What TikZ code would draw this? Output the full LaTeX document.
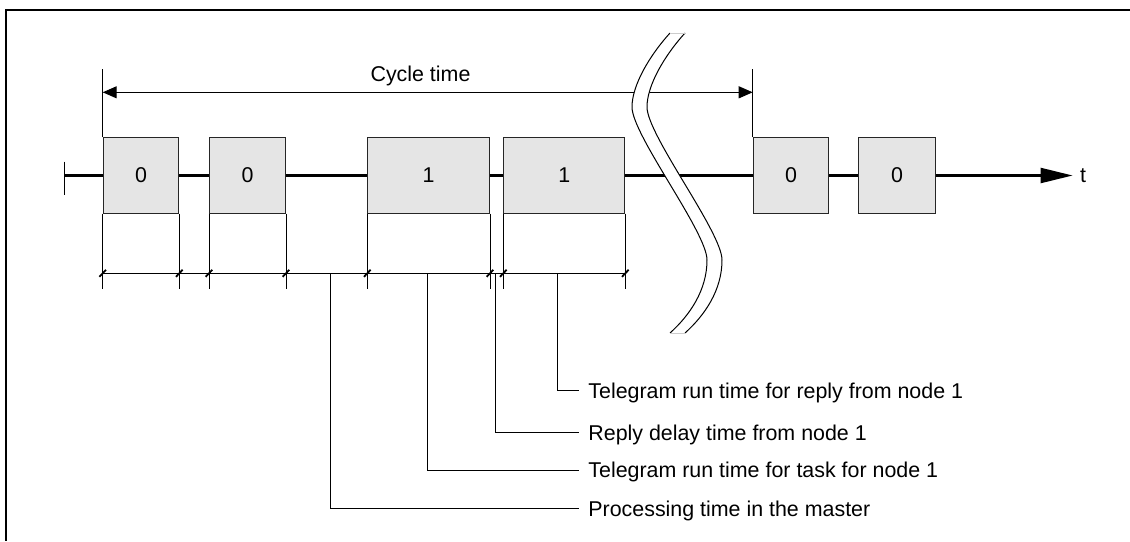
\documentclass[tikz,border=0pt]{standalone}
\usepackage{fontspec}
\setmainfont{Liberation Sans}
\usetikzlibrary{arrows.meta}

\begin{document}
\begin{tikzpicture}[x = 0.5pt, y = -0.5pt, >={Triangle[length = 7pt, width = 6pt]},
  font = \fontsize{10.7}{12.8}\selectfont,
  box/.style = {draw = black!85, line width = 0.5pt, fill = gray!20, minimum height = 37.6pt, anchor = west, inner sep = 0pt},
  thinline/.style = {line width = 0.5pt},
  axisline/.style = {line width = 1.1pt},
  tickmark/.style = {line width = 0.9pt},
  remark/.style = {anchor = west, inner xsep = 4.5pt, inner ysep = 0pt, text depth = 0pt}]
  \useasboundingbox (0,0) rectangle (1130,541);
  %frame (only top and left edge)
  \draw[line width = 1pt] (1130,10) -- (6,10) -- (6,541);

  %time axis
  \coordinate (t0) at (64,175.5);
  \node[inner xsep = 3.5pt] (t) at (1083,175.5) {t};
  \draw[axisline, -{Triangle[length = 16pt, width = 7.5pt]}] (t0) -- (t.west);
  \draw[thinline] (t0) ++(0,-14) -- ++(0,33);

  %telegrams
  \node[box, minimum width = 37.8pt] (b1) at (102.7,175.5) {0};
  \node[box, minimum width = 38pt] (b2) at (209,175.5) {0};
  \node[box, minimum width = 60.85pt] (b3) at (367.3,175.5) {1};
  \node[box, minimum width = 60.5pt] (b4) at (503.3,175.5) {1};
  \node[box, minimum width = 37.8pt] (b5) at (752.7,175.5) {0};
  \node[box, minimum width = 38.35pt] (b6) at (858.3,175.5) {0};

  \coordinate (ctop) at (0,69);
  \coordinate (carr) at (0,92.3);
  \coordinate (dim) at (0,273.3);
  \coordinate (dimend) at (0,289.3);

  %cycle time
  \draw[thinline] (b1.north west) -- (b1.north west |- ctop);
  \draw[thinline] (b5.north west) -- (b5.north west |- ctop);
  \draw[thinline, <->] (b1.north west |- carr) -- (b5.north west |- carr);
  \node[anchor = base, inner sep = 0pt] (cyc) at (420.5,81) {Cycle time};

  %dimension line below the telegrams
  \foreach \b in {b1,b2,b3,b4}{
    \draw[thinline] (\b.south west) -- (\b.south west |- dimend);
    \draw[thinline] (\b.south east) -- (\b.south east |- dimend);
    \draw[tickmark] (\b.south west |- dim) ++(-3.3,3.5) -- ++(6.6,-7);
    \draw[tickmark] (\b.south east |- dim) ++(-3.3,3.5) -- ++(6.6,-7);
  }
  \draw[thinline] (b1.south west |- dim) -- (b4.south east |- dim);

  %break
  \fill[white] (670,33) .. controls (650,55) and (632,85) .. (632,107)
    .. controls (632,135) and (707,232) .. (707,260)
    .. controls (707,290) and (690,315) .. (670,333) -- (685,333)
    .. controls (705,315) and (722,290) .. (722,260)
    .. controls (722,232) and (647,135) .. (647,107)
    .. controls (647,85) and (665,55) .. (685,33) -- cycle;
  \draw[thinline] (670,33) .. controls (650,55) and (632,85) .. (632,107)
    .. controls (632,135) and (707,232) .. (707,260)
    .. controls (707,290) and (690,315) .. (670,333);
  \draw[thinline] (685,33) .. controls (665,55) and (647,85) .. (647,107)
    .. controls (647,135) and (722,232) .. (722,260)
    .. controls (722,290) and (705,315) .. (685,333);
  \draw[thinline, gray!40] (670,33) -- (685,33) (670,333) -- (685,333);

  %leaders
  \node[remark] (l1) at (579,390.5) {Telegram run time for reply from node 1};
  \node[remark] (l2) at (579,432.3) {Reply delay time from node 1};
  \node[remark] (l3) at (579,470) {Telegram run time for task for node 1};
  \node[remark] (l4) at (579,508.3) {Processing time in the master};
  \coordinate (p1) at (557.7,273.3);
  \coordinate (p2) at (495.7,273.3);
  \coordinate (p3) at (427.7,273.3);
  \coordinate (p4) at (330,273.3);
  \foreach \i in {1,...,4}
    \draw[thinline] (p\i) |- (l\i.west);
\end{tikzpicture}
\end{document}
